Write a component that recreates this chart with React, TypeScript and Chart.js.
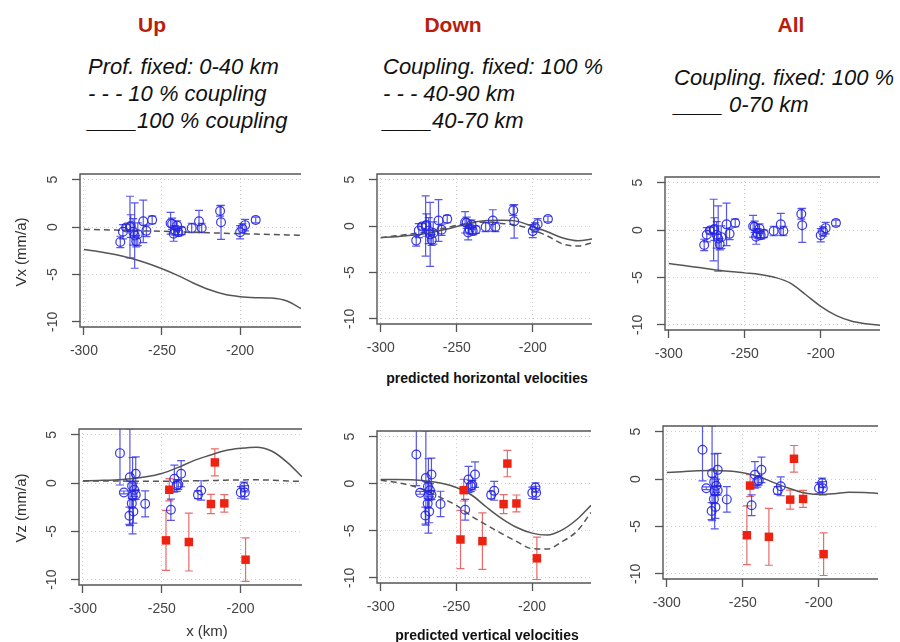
import React, { useEffect, useRef } from "react";
import { Chart, registerables } from "chart.js";
Chart.register(...registerables);

// ---- axis ticks ----
const xTicks = [-300, -250, -200];
const yTicks = [-10, -5, 0, 5];

// ---- observed horizontal velocities (blue) ----
const vxX = [-276.7, -275, -273, -270.5, -270, -268.5, -267.5, -266.5, -265.5, -262, -260, -256.3, -244.5, -243.5, -242.5, -241.5, -240.3, -239.5, -237.5, -231, -226.3, -224.6, -212.8, -212.2, -200, -198.5, -196.8, -190];
const vxY = [-1.57, -0.5, -0.05, 0.0, 0.1, -0.5, -0.9, -1.5, -0.75, 0.6, -0.4, 0.75, 0.4, 0.35, -0.7, -0.35, 0.15, -0.55, -0.4, -0.1, 0.6, -0.1, 1.7, 0.5, -0.55, -0.15, 0.2, 0.75];
const vxErr = [0.6, 0.75, 0.3, 3.25, 1.2, 1.4, 3.45, 0.6, 1.2, 2.25, 0.6, 0.4, 1.15, 0.6, 0.8, 0.5, 0.5, 0.4, 0.4, 0.5, 1.15, 0.5, 0.55, 1.8, 0.7, 0.5, 0.6, 0.3];

// ---- observed vertical velocities (blue circles) ----
const vzBlueX = [-276.5, -274, -270.2, -268.5, -266.5, -270.5, -268, -269, -267.5, -266.5, -268.8, -260.5, -244.2, -242, -240.5, -239.5, -237.7, -227, -225, -199.8, -197.7, -197.3];
const vzBlueY = [3.1, -0.97, 0.6, -1.3, 0.97, -3.38, -2.95, -2.1, -0.7, -1.2, -0.3, -2.15, -2.76, 0.45, -0.25, -0.15, 0.97, -1.2, -0.76, -0.97, -0.41, -0.97];
const vzBlueErr = [3.3, 0.15, 5.0, 3.95, 1.75, 0.9, 1.2, 0.5, 0.7, 0.5, 0.5, 1.35, 1.1, 1.4, 0.6, 0.5, 1.35, 0.4, 1.0, 0.6, 0.5, 0.7];

// ---- observed vertical velocities (red squares) ----
const vzRedX = [-245.2, -247.3, -232.8, -216.3, -218.8, -210.3, -196.8];
const vzRedY = [-0.69, -5.93, -6.1, 2.14, -2.17, -2.1, -7.93];
const vzRedErr = [1.15, 3.1, 3.0, 1.4, 1.0, 0.9, 2.25];

// ---- model curves ----
const modelX = [-300, -290, -280, -270, -260, -250, -240, -230, -220, -210, -200, -190, -180, -170, -161];
const upVxDash = [-0.24, -0.28, -0.32, -0.37, -0.41, -0.45, -0.5, -0.55, -0.6, -0.65, -0.7, -0.74, -0.78, -0.83, -0.87];
const upVxSolid = [-2.37, -2.6, -2.9, -3.3, -3.8, -4.4, -5.1, -5.9, -6.6, -7.1, -7.35, -7.45, -7.5, -7.8, -8.6];
const downVxDash = [-1.25, -1.05, -0.85, -0.62, -0.3, 0.07, 0.33, 0.43, 0.27, 0.07, -0.42, -1.1, -1.95, -2.15, -1.8];
const downVxSolid = [-1.25, -1.15, -1.0, -0.8, -0.45, -0.05, 0.38, 0.6, 0.62, 0.5, -0.05, -0.64, -1.3, -1.6, -1.4];
const allVxSolid = [-3.52, -3.75, -3.96, -4.18, -4.38, -4.52, -4.68, -5.0, -5.6, -6.8, -8.05, -9.0, -9.6, -9.9, -10.05];
const upVzDash = [0.22, 0.22, 0.21, 0.2, 0.19, 0.18, 0.2, 0.23, 0.26, 0.3, 0.33, 0.34, 0.3, 0.22, 0.17];
const upVzSolid = [0.24, 0.28, 0.33, 0.45, 0.65, 1.0, 1.6, 2.3, 2.85, 3.35, 3.6, 3.72, 3.3, 2.1, 0.65];
const downVzDash = [0.36, 0.15, -0.2, -0.75, -1.5, -2.3, -3.45, -4.4, -5.3, -6.15, -6.9, -6.95, -6.15, -5.0, -3.05];
const downVzSolid = [0.46, 0.46, 0.42, 0.3, 0.05, -0.4, -1.2, -2.5, -3.7, -4.65, -5.25, -5.45, -4.9, -3.75, -2.3];
const allVzSolid = [0.7, 0.78, 0.88, 0.9, 0.84, 0.67, 0.3, -0.35, -0.95, -1.45, -1.62, -1.55, -1.4, -1.42, -1.52];

const BLUE = "rgba(35,35,225,0.9)";
const BLUE_ERR = "rgba(45,45,225,0.8)";
const RED = "#ee2211";
const RED_ERR = "rgba(225,70,70,0.8)";
const GREY = "#555555";
const FONT = "'Liberation Sans', Arial, Helvetica, sans-serif";

const pts = (xs: number[], ys: number[]) => xs.map((x, i) => ({ x, y: ys[i] }));

const errorBarPlugin = {
  id: "errbars",
  beforeDatasetsDraw(chart: any) {
    const { ctx, chartArea, scales } = chart;
    ctx.save();
    ctx.beginPath();
    ctx.rect(chartArea.left, chartArea.top, chartArea.right - chartArea.left, chartArea.bottom - chartArea.top);
    ctx.clip();
    chart.data.datasets.forEach((ds: any) => {
      if (!ds.errs) return;
      ctx.strokeStyle = ds.errColor;
      ctx.lineWidth = 1.2;
      ds.data.forEach((p: any, i: number) => {
        const px = scales.x.getPixelForValue(p.x);
        const y1 = scales.y.getPixelForValue(p.y + ds.errs[i]);
        const y2 = scales.y.getPixelForValue(p.y - ds.errs[i]);
        ctx.beginPath();
        ctx.moveTo(px, y1); ctx.lineTo(px, y2);
        ctx.moveTo(px - 4, y1); ctx.lineTo(px + 4, y1);
        ctx.moveTo(px - 4, y2); ctx.lineTo(px + 4, y2);
        ctx.stroke();
      });
    });
    ctx.restore();
  },
};

const boxPlugin = {
  id: "rbox",
  afterDraw(chart: any) {
    const { ctx, chartArea: a } = chart;
    ctx.save();
    ctx.strokeStyle = GREY;
    ctx.lineWidth = 1.4;
    ctx.beginPath();
    ctx.moveTo(a.right, a.top); ctx.lineTo(a.left, a.top); ctx.lineTo(a.left, a.bottom); ctx.lineTo(a.right, a.bottom);
    ctx.stroke();
    ctx.restore();
  },
};

type Area = { l: number; t: number; r: number; b: number };

function circles(xs: number[], ys: number[], errs: number[]) {
  return { type: "scatter", data: pts(xs, ys), pointStyle: "circle", pointRadius: 4.4, borderColor: BLUE, backgroundColor: "rgba(0,0,0,0)", borderWidth: 1.2, errs, errColor: BLUE_ERR };
}
function squares(xs: number[], ys: number[], errs: number[]) {
  return { type: "scatter", data: pts(xs, ys), pointStyle: "rect", pointRadius: 6, borderColor: RED, backgroundColor: RED, borderWidth: 0, errs, errColor: RED_ERR };
}
function curve(ys: number[], dashed: boolean) {
  return { type: "line", data: pts(modelX, ys), borderColor: GREY, borderWidth: 1.5, pointRadius: 0, showLine: true, fill: false, cubicInterpolationMode: "monotone", borderDash: dashed ? [6, 4] : [] };
}

function Panel({ area, datasets }: { area: Area; datasets: any[] }) {
  const ref = useRef<HTMLCanvasElement>(null);
  const w = area.r - area.l + 70;
  const h = area.b - area.t + 65;
  useEffect(() => {
    const tickFont = { family: FONT, size: 14 };
    const gridOpts = { color: "#cccccc", lineWidth: 1, drawTicks: true, tickLength: 8, tickColor: GREY, tickWidth: 1.3 };
    const chart = new Chart(ref.current as HTMLCanvasElement, {
      type: "scatter",
      data: { datasets: datasets as any },
      options: {
        animation: false,
        responsive: false,
        maintainAspectRatio: false,
        layout: { padding: { top: 20, right: 10, left: 0, bottom: 0 } },
        plugins: { legend: { display: false }, tooltip: { enabled: false } },
        scales: {
          x: {
            type: "linear",
            min: -302.5,
            max: -161,
            afterBuildTicks: (s: any) => { s.ticks = xTicks.map((v) => ({ value: v })); },
            afterFit: (s: any) => { s.height = 45; },
            grid: gridOpts,
            border: { display: false, dash: [1, 3] },
            ticks: { color: "#444", font: tickFont, padding: 8, maxRotation: 0, autoSkip: false },
          },
          y: {
            type: "linear",
            min: -10.55,
            max: 5.6,
            afterBuildTicks: (s: any) => { s.ticks = yTicks.map((v) => ({ value: v })); },
            afterFit: (s: any) => { s.width = 60; },
            grid: gridOpts,
            border: { display: false, dash: [1, 3] },
            ticks: { color: "#444", font: tickFont, padding: 9, minRotation: 90, maxRotation: 90, crossAlign: "center", autoSkip: false },
          },
        },
      } as any,
      plugins: [errorBarPlugin, boxPlugin],
    });
    return () => chart.destroy();
  }, []);
  return (
    <canvas
      ref={ref}
      width={w}
      height={h}
      style={{ position: "absolute", left: area.l - 60, top: area.t - 20, width: w, height: h }}
    />
  );
}

const txt = (extra: React.CSSProperties): React.CSSProperties => ({ position: "absolute", whiteSpace: "nowrap", fontFamily: FONT, ...extra });

export default function App() {
  const title = (s: string, cx: number) => (
    <div style={txt({ left: cx, top: 25, transform: "translate(-50%,-50%)", color: "#b81d0d", fontWeight: "bold", fontSize: 21 })}>{s}</div>
  );
  const lines = (arr: string[], x: number, y0: number) =>
    arr.map((s, i) => (
      <div key={i} style={txt({ left: x, top: y0 + i * 27, transform: "translateY(-50%)", fontStyle: "italic", fontSize: 22, color: "#111" })}>{s}</div>
    ));
  return (
    <div style={{ position: "absolute", left: 0, top: 0, width: 900, height: 642, background: "#fff", overflow: "hidden" }}>
      {title("Up", 152)}
      {title("Down", 453)}
      {title("All", 791)}
      {lines(["Prof. fixed: 0-40 km", "- - - 10 % coupling", "____100 % coupling"], 88, 67)}
      {lines(["Coupling. fixed: 100 %", "- - - 40-90 km", "____40-70 km"], 383, 67)}
      {lines(["Coupling. fixed: 100 %", "____ 0-70 km"], 674, 78)}

      <Panel area={{ l: 80, t: 174, r: 301, b: 327 }} datasets={[circles(vxX, vxY, vxErr), curve(upVxDash, true), curve(upVxSolid, false)]} />
      <Panel area={{ l: 377, t: 174, r: 592, b: 324 }} datasets={[circles(vxX, vxY, vxErr), curve(downVxDash, true), curve(downVxSolid, false)]} />
      <Panel area={{ l: 665, t: 177, r: 880, b: 330 }} datasets={[circles(vxX, vxY, vxErr), curve(allVxSolid, false)]} />
      <Panel area={{ l: 79, t: 429, r: 302, b: 585 }} datasets={[squares(vzRedX, vzRedY, vzRedErr), circles(vzBlueX, vzBlueY, vzBlueErr), curve(upVzDash, true), curve(upVzSolid, false)]} />
      <Panel area={{ l: 377, t: 431, r: 591, b: 583 }} datasets={[squares(vzRedX, vzRedY, vzRedErr), circles(vzBlueX, vzBlueY, vzBlueErr), curve(downVzDash, true), curve(downVzSolid, false)]} />
      <Panel area={{ l: 663, t: 426, r: 878, b: 579 }} datasets={[squares(vzRedX, vzRedY, vzRedErr), circles(vzBlueX, vzBlueY, vzBlueErr), curve(allVzSolid, false)]} />

      <div style={txt({ left: 20, top: 252, transform: "translate(-50%,-50%) rotate(-90deg)", fontSize: 15, color: "#333" })}>Vx (mm/a)</div>
      <div style={txt({ left: 20, top: 508, transform: "translate(-50%,-50%) rotate(-90deg)", fontSize: 15, color: "#333" })}>Vz (mm/a)</div>
      <div style={txt({ left: 207, top: 630, transform: "translate(-50%,-50%)", fontSize: 15, color: "#333" })}>x (km)</div>
      <div style={txt({ left: 487, top: 378, transform: "translate(-50%,-50%)", fontSize: 14, fontWeight: "bold", color: "#111" })}>predicted horizontal velocities</div>
      <div style={txt({ left: 487, top: 635, transform: "translate(-50%,-50%)", fontSize: 14, fontWeight: "bold", color: "#111" })}>predicted vertical velocities</div>
    </div>
  );
}
